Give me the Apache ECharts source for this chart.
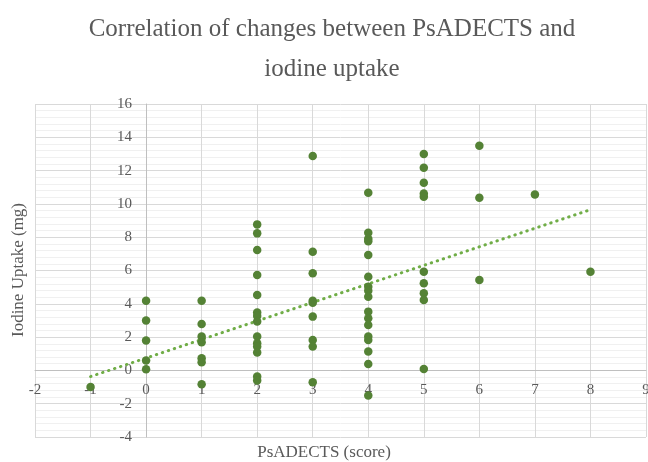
<!DOCTYPE html>
<html>
<head>
<meta charset="utf-8">
<script src="https://cdn.jsdelivr.net/npm/echarts@6/dist/echarts.min.js"></script>
<style>html,body{margin:0;padding:0;background:#fff;}#c{width:648px;height:462px;}</style>
</head>
<body>
<div id="c"></div>
<script>
var titleText = 'Correlation of changes between PsADECTS and\niodine uptake';
var xAxisName = 'PsADECTS (score)';
var yAxisName = 'Iodine Uptake (mg)';
var psadects = [
  -1,
  0, 0, 0, 0, 0,
  1, 1, 1, 1, 1, 1, 1,
  2, 2, 2, 2, 2, 2, 2, 2, 2, 2, 2, 2, 2, 2,
  3, 3, 3, 3, 3, 3, 3, 3, 3,
  4, 4, 4, 4, 4, 4, 4, 4, 4, 4, 4, 4, 4, 4, 4, 4, 4,
  5, 5, 5, 5, 5, 5, 5, 5, 5, 5,
  6, 6, 6,
  7,
  8
];
var uptake = [
  -1.0,
  4.19, 2.99, 1.79, 0.59, 0.07,
  4.19, 2.79, 2.03, 1.69, 0.73, 0.49, -0.83,
  8.77, 8.23, 7.23, 5.73, 4.53, 3.47, 3.27, 2.93, 2.03, 1.63, 1.43, 1.07, -0.37, -0.61,
  12.87, 7.13, 5.83, 4.19, 4.07, 3.23, 1.83, 1.43, -0.71,
  10.67, 8.27, 7.9, 7.75, 6.93, 5.63, 5.03, 4.79, 4.43, 3.53, 3.13, 2.73, 2.03, 1.83, 1.13, 0.39, -1.51,
  12.99, 12.17, 11.27, 10.63, 10.43, 5.93, 5.23, 4.63, 4.23, 0.09,
  13.49, 10.37, 5.43,
  10.57,
  5.93
];
var trendX = [-1, 8];
var trendY = [-0.37, 9.65];

var serif = 'Liberation Serif';
var points = psadects.map(function (x, i) { return [x, uptake[i]]; });
var trend = trendX.map(function (x, i) { return [x, trendY[i]]; });

var chart = echarts.init(document.getElementById('c'));
chart.setOption({
  animation: false,
  title: {
    text: titleText,
    left: 327,
    top: 4,
    textAlign: 'center',
    textStyle: { fontFamily: serif, fontSize: 25, fontWeight: 'normal', color: '#595959', lineHeight: 40 }
  },
  grid: { left: 35, right: 2, top: 104, bottom: 25, containLabel: false, outerBoundsMode: 'none' },
  xAxis: {
    type: 'value', min: -2, max: 9, interval: 1,
    axisLine: { show: true, onZero: false, lineStyle: { color: '#bfbfbf', width: 1 } },
    axisTick: { show: false },
    axisLabel: { fontFamily: serif, fontSize: 15, color: '#595959', margin: 12, showMinLabel: true, showMaxLabel: true },
    splitLine: { show: true, lineStyle: { color: '#d9d9d9', width: 1 } }
  },
  yAxis: {
    type: 'value', min: -4, max: 16, interval: 2,
    axisLine: { show: true, onZero: false, lineStyle: { color: '#bfbfbf', width: 1 } },
    axisTick: { show: false },
    minorTick: { show: false, splitNumber: 5 },
    minorSplitLine: { show: true, lineStyle: { color: '#f0f0f0', width: 1 } },
    axisLabel: { fontFamily: serif, fontSize: 15, color: '#595959', margin: 14 },
    splitLine: { show: true, lineStyle: { color: '#d9d9d9', width: 1 } }
  },
  graphic: [
    { type: 'text', left: 'center', top: 444,
      style: { text: xAxisName, fontFamily: serif, fontSize: 17, fill: '#595959' } },
    { type: 'text', x: 19, y: 270, rotation: Math.PI / 2,
      style: { text: yAxisName, fontFamily: serif, fontSize: 17, fill: '#595959', align: 'center', verticalAlign: 'middle' } }
  ],
  series: [
    {
      type: 'scatter', data: points, symbol: 'circle', symbolSize: 8.5,
      itemStyle: { color: '#548235', opacity: 1 }, z: 3
    },
    {
      type: 'line', data: trend, symbol: 'none', silent: true,
      lineStyle: { color: '#70ad47', width: 3, type: [0.5, 5.8], cap: 'round' }, z: 2
    }
  ]
});
// move both axes (line + labels) onto the zero crossing
var origin = chart.convertToPixel({ gridIndex: 0 }, [0, 0]);
var corner = chart.convertToPixel({ gridIndex: 0 }, [-2, -4]);
chart.setOption({
  xAxis: { offset: origin[1] - corner[1] },
  yAxis: { offset: corner[0] - origin[0] }
});
</script>
</body>
</html>
